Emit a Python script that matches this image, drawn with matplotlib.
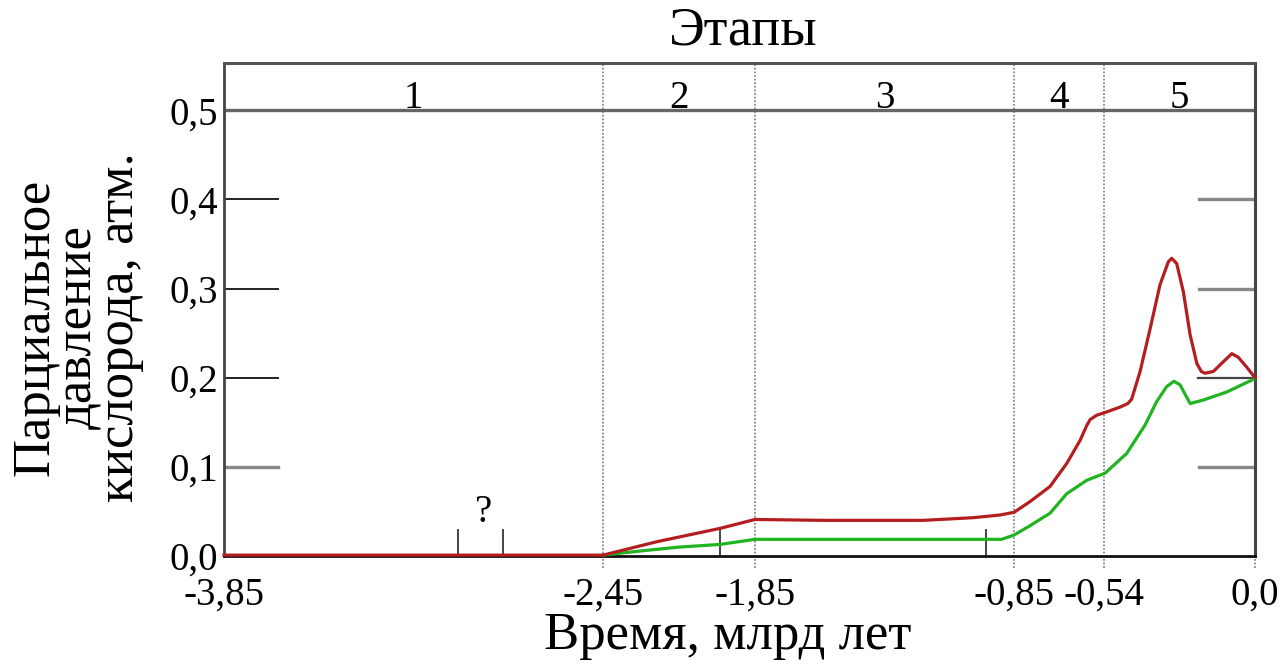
import numpy as np
import matplotlib
matplotlib.use("Agg")
import matplotlib.pyplot as plt

# Данные (млрд лет, атм.)
red_x = [-3.85, -2.45, -2.238, -1.988, -1.85, -1.586, -1.2, -1.007, -0.904, -0.85,
         -0.795, -0.726, -0.668, -0.622, -0.6, -0.588, -0.565, -0.536, -0.483, -0.455,
         -0.441, -0.411, -0.375, -0.34, -0.31, -0.298, -0.28, -0.256, -0.232, -0.208,
         -0.192, -0.179, -0.149, -0.113, -0.083, -0.06, -0.03, 0.0]
red_y = [0.001, 0.001, 0.016, 0.031, 0.041, 0.040, 0.040, 0.043, 0.046, 0.049,
         0.061, 0.078, 0.104, 0.130, 0.146, 0.153, 0.158, 0.161, 0.167, 0.171,
         0.176, 0.207, 0.255, 0.304, 0.330, 0.334, 0.328, 0.296, 0.248, 0.216,
         0.207, 0.205, 0.207, 0.218, 0.227, 0.223, 0.212, 0.200]

green_x = [-2.45, -2.304, -2.15, -1.988, -1.85, -1.5, -1.2, -0.898, -0.85, -0.795,
           -0.726, -0.668, -0.599, -0.536, -0.459, -0.393, -0.352, -0.316, -0.29,
           -0.268, -0.232, -0.185, -0.101, 0.0]
green_y = [0.001, 0.0056, 0.010, 0.013, 0.0187, 0.0187, 0.0187, 0.0187, 0.0235, 0.034,
           0.048, 0.070, 0.085, 0.093, 0.115, 0.147, 0.173, 0.190, 0.196,
           0.192, 0.171, 0.175, 0.184, 0.199]

stage_bounds = [-3.85, -2.45, -1.85, -0.85, -0.54, 0.0]
stage_names = ['1', '2', '3', '4', '5']
xtick_vals = [-3.85, -2.45, -1.85, -0.85, -0.54, 0.0]
xtick_labels = ['-3,85', '-2,45', '-1,85', '-0,85', '-0,54', '0,0']
ytick_vals = [0.0, 0.1, 0.2, 0.3, 0.4, 0.5]
ytick_labels = ['0,0', '0,1', '0,2', '0,3', '0,4', '0,5']
mark_x = [-2.986, -2.819, -1.988, -0.958]   # короткие вертикальные метки

# шкала времени на оригинале не линейная: кусочно-линейная ось по границам этапов
scale_pos = [0.0, 379.0, 531.0, 790.0, 880.0, 1031.0]


def fwd(v):
    v = np.asarray(v, dtype=float)
    out = np.interp(v, stage_bounds, scale_pos)
    lo = v < stage_bounds[0]
    hi = v > stage_bounds[-1]
    out[lo] = scale_pos[0] + (v[lo] - stage_bounds[0]) * 270.7
    out[hi] = scale_pos[-1] + (v[hi] - stage_bounds[-1]) * 279.6
    return out


def inv(p):
    p = np.asarray(p, dtype=float)
    out = np.interp(p, scale_pos, stage_bounds)
    lo = p < scale_pos[0]
    hi = p > scale_pos[-1]
    out[lo] = stage_bounds[0] + (p[lo] - scale_pos[0]) / 270.7
    out[hi] = stage_bounds[-1] + (p[hi] - scale_pos[-1]) / 279.6
    return out


plt.rcParams['font.family'] = ['Liberation Serif', 'DejaVu Serif']

fig = plt.figure(figsize=(12.86, 6.67), dpi=100)
ax = fig.add_axes([0.1742, 0.1664, 0.8017, 0.7391])

ax.set_xscale('function', functions=(fwd, inv))
ax.set_xlim(-3.85, 0.0)
ax.set_ylim(0.0, 0.553)

# рамка
ax.spines['left'].set_color('#444444')
ax.spines['left'].set_linewidth(2.0)
ax.spines['top'].set_color('#555555')
ax.spines['top'].set_linewidth(2.2)
ax.spines['right'].set_color('#444444')
ax.spines['right'].set_linewidth(2.2)
ax.spines['bottom'].set_color('#111111')
ax.spines['bottom'].set_linewidth(2.0)

ax.set_xticks(xtick_vals)
ax.set_xticklabels(xtick_labels)
ax.set_yticks(ytick_vals)
ax.set_yticklabels(ytick_labels)
ax.xaxis.set_minor_locator(matplotlib.ticker.NullLocator())
ax.tick_params(axis='both', which='both', length=0, labelsize=28, colors='black')
ax.tick_params(axis='x', pad=15)
ax.tick_params(axis='y', pad=4)

# линия 0,5 и границы этапов
ax.axhline(0.5, color='#666666', lw=2.4, zorder=2)
for b in stage_bounds[1:]:
    ax.plot([b, b], [-0.014, 0.553], color='#8a8a8a', lw=1.3, ls=(0, (1, 1)),
            clip_on=False, zorder=1)
for i, name in enumerate(stage_names):
    mid = inv((fwd([stage_bounds[i]]) + fwd([stage_bounds[i + 1]])) / 2)[0]
    ax.text(mid, 0.503, name, ha='center', va='baseline', fontsize=28)

# засечки слева и справа
for yv in [0.1, 0.2, 0.3, 0.4]:
    if yv == 0.1:
        ax.plot([-3.85, -3.65], [yv, yv], color='#888888', lw=2.4, zorder=2)
    else:
        ax.plot([-3.85, -3.65], [yv, yv], color='#222222', lw=1.4, zorder=2)
    if yv == 0.2:
        ax.plot([-0.205, 0.0], [yv, yv], color='#444444', lw=1.6, zorder=2)
    else:
        ax.plot([-0.2, 0.0], [yv, yv], color='#888888', lw=2.4, zorder=2)

# короткие метки
for mx in mark_x:
    ax.plot([mx, mx], [0.0, 0.029], color='#444444', lw=1.4, zorder=2)
ax.text(-2.89, 0.049, '?', ha='center', va='center', fontsize=28)

# кривые
ax.plot(green_x, green_y, color='#22b322', lw=2.3, zorder=3, clip_on=False,
        solid_joinstyle='round')
ax.plot(red_x, red_y, color='#b41e1e', lw=2.3, zorder=4, clip_on=False,
        solid_joinstyle='round')

fig.text(0.578, 1 - 31 / 667, 'Этапы', ha='center', va='center', fontsize=39)
fig.text(0.566, 1 - 636 / 667, 'Время, млрд лет', ha='center', va='center', fontsize=38)
fig.text(78 / 1286, 1 - 327 / 667, 'Парциальное\nдавление\nкислорода, атм.',
         rotation=90, ha='center', va='center', multialignment='center',
         fontsize=38, linespacing=0.84)

fig.savefig('out.png', dpi=100)
